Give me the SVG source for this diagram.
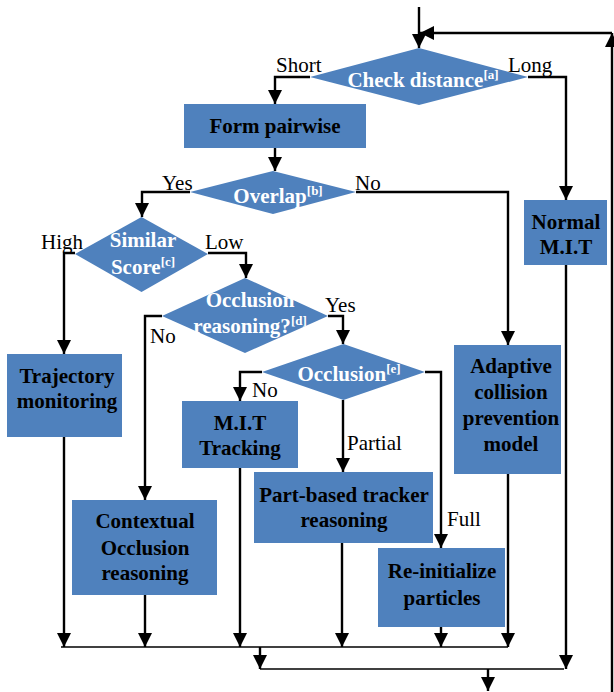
<svg xmlns="http://www.w3.org/2000/svg" width="614" height="692" viewBox="0 0 614 692" font-family="Liberation Serif">
<style>
.shape{fill:#4F81BD;stroke:none}
.dt{font-family:'Liberation Serif','Times New Roman',serif;font-size:21px;font-weight:bold;fill:#FFFFFF;text-anchor:middle}
.bt{font-family:'Liberation Serif','Times New Roman',serif;font-size:21px;font-weight:bold;fill:#000000;text-anchor:middle}
.lb{font-family:'Liberation Serif','Times New Roman',serif;font-size:21px;fill:#000000}
.sup{font-size:13px}
.ca{fill:none;stroke:#000;stroke-width:2.4;marker-end:url(#ah)}
.thin{fill:none;stroke:#000;stroke-width:1.6}
</style>
<defs>
<marker id="ah" markerUnits="userSpaceOnUse" markerWidth="14" markerHeight="16" viewBox="0 0 14 16" refX="14" refY="7" orient="auto">
<path d="M0,0 L14,7 L0,14 Z" fill="#000"/>
</marker>
</defs>
<g id="connectors">
<path class="ca" d="M419,7 V48"/>
<path class="ca" d="M612,692 V33"/>
<path class="ca" d="M612,33 H420"/>
<path class="ca" d="M310,77 H275 V104"/>
<path class="ca" d="M528,77 H566 V200"/>
<path class="ca" d="M275,148 V171"/>
<path class="ca" d="M190,192 H142 V217"/>
<path class="ca" d="M356,192 H508 V345"/>
<path class="ca" d="M75,253 H64 V354"/>
<path class="ca" d="M208,253 H246 V278"/>
<path class="ca" d="M162,316 H145 V500"/>
<path class="ca" d="M328,316 H343 V344"/>
<path class="ca" d="M262,372 H240 V401"/>
<path class="ca" d="M343,400 V472"/>
<path class="ca" d="M425,372 H441 V548"/>
<path class="ca" d="M64,437 V647"/>
<path class="ca" d="M145,595 V647"/>
<path class="ca" d="M240,468 V647"/>
<path class="ca" d="M342,543 V647"/>
<path class="ca" d="M441,627 V647"/>
<path class="ca" d="M508,474 V647"/>
<path class="ca" d="M566,265 V669"/>
<path class="thin" d="M61,647 H508"/>
<path class="ca" d="M260,647 V669"/>
<path class="thin" d="M260,669 H564"/>
<path class="ca" d="M488,669 V691"/>
</g>
<g id="labels">
<text class="lb" x="276" y="72">Short</text>
<text class="lb" x="508" y="72">Long</text>
<text class="lb" x="162" y="190">Yes</text>
<text class="lb" x="355" y="190">No</text>
<text class="lb" x="41" y="249">High</text>
<text class="lb" x="205" y="249">Low</text>
<text class="lb" x="150" y="343">No</text>
<text class="lb" x="325" y="312">Yes</text>
<text class="lb" x="252" y="397">No</text>
<text class="lb" x="347" y="450">Partial</text>
<text class="lb" x="447" y="526">Full</text>
</g>
<g id="check-distance">
<polygon class="shape" points="419,48 528,77 419,105 310,77"/>
<text class="dt" x="423" y="87">Check distance<tspan class="sup" dy="-8">[a]</tspan></text>
</g>
<g id="form-pairwise">
<rect class="shape" x="184" y="104" width="182" height="44"/>
<text class="bt" x="275" y="133">Form pairwise</text>
</g>
<g id="overlap">
<polygon class="shape" points="273,171 356,192 273,214 190,192"/>
<text class="dt" x="278" y="203">Overlap<tspan class="sup" dy="-8">[b]</tspan></text>
</g>
<g id="normal-mit">
<rect class="shape" x="524" y="200" width="83" height="65"/>
<text class="bt" x="566" y="229">Normal</text>
<text class="bt" x="566" y="254">M.I.T</text>
</g>
<g id="similar-score">
<polygon class="shape" points="141.5,217 208,254 141.5,292 75,254"/>
<text class="dt" x="143" y="247">Similar</text>
<text class="dt" x="143" y="274">Score<tspan class="sup" dy="-8">[c]</tspan></text>
</g>
<g id="occlusion-reasoning">
<polygon class="shape" points="245,278 328,316 245,353 162,316"/>
<text class="dt" x="250" y="307">Occlusion</text>
<text class="dt" x="250" y="333">reasoning?<tspan class="sup" dy="-8">[d]</tspan></text>
</g>
<g id="occlusion">
<polygon class="shape" points="343.5,344 425,372 343.5,400 262,372"/>
<text class="dt" x="349" y="381">Occlusion<tspan class="sup" dy="-8">[e]</tspan></text>
</g>
<g id="trajectory-monitoring">
<rect class="shape" x="7" y="354" width="115" height="83"/>
<text class="bt" x="67" y="383">Trajectory</text>
<text class="bt" x="67" y="408">monitoring</text>
</g>
<g id="mit-tracking">
<rect class="shape" x="182" y="401" width="116" height="67"/>
<text class="bt" x="240" y="430">M.I.T</text>
<text class="bt" x="240" y="455">Tracking</text>
</g>
<g id="adaptive-collision">
<rect class="shape" x="454" y="345" width="107" height="129"/>
<text class="bt" x="511" y="373">Adaptive</text>
<text class="bt" x="511" y="399">collision</text>
<text class="bt" x="511" y="425">prevention</text>
<text class="bt" x="511" y="451">model</text>
</g>
<g id="part-based">
<rect class="shape" x="254" y="472" width="179" height="71"/>
<text class="bt" x="344" y="502">Part-based tracker</text>
<text class="bt" x="344" y="527">reasoning</text>
</g>
<g id="contextual-occlusion">
<rect class="shape" x="72" y="500" width="145" height="95"/>
<text class="bt" x="145" y="528">Contextual</text>
<text class="bt" x="145" y="555">Occlusion</text>
<text class="bt" x="145" y="580">reasoning</text>
</g>
<g id="reinitialize">
<rect class="shape" x="378" y="548" width="127" height="79"/>
<text class="bt" x="442" y="578">Re-initialize</text>
<text class="bt" x="442" y="605">particles</text>
</g>
</svg>
